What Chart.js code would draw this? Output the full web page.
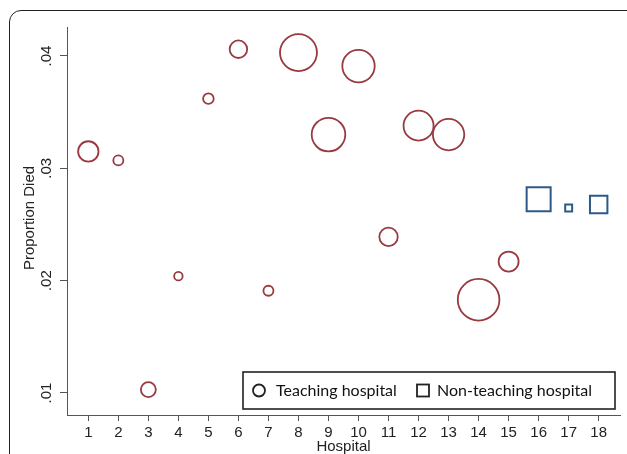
<!DOCTYPE html>
<html>
<head>
<meta charset="utf-8">
<script src="https://cdn.jsdelivr.net/npm/chart.js@4"></script>
<style>
  html, body { margin: 0; padding: 0; background: #fff; }
  #wrap { position: relative; width: 627px; height: 454px; overflow: hidden; }
  #frame {
    position: absolute; left: 9px; top: 10px; width: 630px; height: 520px;
    border: 1.8px solid #222; border-radius: 12px; box-sizing: border-box;
  }
  canvas { position: absolute; left: 0; top: 0; }
</style>
</head>
<body>
<div id="wrap">
  <div id="frame"></div>
  <canvas id="chart" width="627" height="454"></canvas>
</div>
<script>
// hospitals 1-15 teaching, 16-18 non-teaching
const teachingHosp = [1, 2, 3, 4, 5, 6, 7, 8, 9, 10, 11, 12, 13, 14, 15];
const teachingDied = [0.0315, 0.0307, 0.0103, 0.0204, 0.0362, 0.0406, 0.0191, 0.0403, 0.0330, 0.0391, 0.0239, 0.0338, 0.0330, 0.0183, 0.0217];
const teachingWeight = [104, 25, 56, 18, 28, 77, 25, 342, 282, 262, 85, 225, 246, 433, 100];

const nonTeachHosp = [16, 17, 18];
const nonTeachDied = [0.02725, 0.02646, 0.02678];
const nonTeachWeight = [144, 12, 76];

const xTicks = [1, 2, 3, 4, 5, 6, 7, 8, 9, 10, 11, 12, 13, 14, 15, 16, 17, 18];
const yTicks = [0.01, 0.02, 0.03, 0.04];
const yTickLabels = ['.01', '.02', '.03', '.04'];

const MAROON = '#993a41';
const NAVY = '#2c5a88';
const AXIS = '#555';
const FONT = '"Liberation Sans", Arial, sans-serif';

function points(xs, ys, ws) {
  return xs.map((x, i) => ({ x: x, y: ys[i], w: ws[i] }));
}

// text that Stata puts outside the plot, plus the legend box inside it
const overlay = {
  id: 'overlay',
  afterDraw(chart) {
    const { ctx, chartArea, scales } = chart;
    ctx.save();
    ctx.fillStyle = '#222';
    ctx.textAlign = 'center';
    ctx.textBaseline = 'middle';
    ctx.font = '15px ' + FONT;
    yTicks.forEach((v, i) => {
      ctx.save();
      ctx.translate(47, scales.y.getPixelForValue(v));
      ctx.rotate(-Math.PI / 2);
      ctx.fillText(yTickLabels[i], 0, 0);
      ctx.restore();
    });
    ctx.save();
    ctx.translate(30, (chartArea.top + chartArea.bottom) / 2 - 3);
    ctx.rotate(-Math.PI / 2);
    ctx.fillText('Proportion Died', 0, 0);
    ctx.restore();
    ctx.fillText('Hospital', (chartArea.left + chartArea.right) / 2, 447);

    // legend
    ctx.strokeStyle = '#222';
    ctx.lineWidth = 1.6;
    ctx.fillStyle = '#fff';
    ctx.fillRect(243, 372, 372, 37);
    ctx.strokeRect(243, 372, 372, 37);
    ctx.lineWidth = 1.8;
    ctx.beginPath();
    ctx.arc(259, 390.5, 6, 0, Math.PI * 2);
    ctx.stroke();
    ctx.strokeRect(417, 384.5, 12, 12);
    ctx.fillStyle = '#111';
    ctx.textAlign = 'left';
    ctx.font = '16px Lato, "Open Sans", sans-serif';
    ctx.fillText('Teaching hospital', 276, 391);
    ctx.fillText('Non-teaching hospital', 437, 391);
    ctx.restore();
  }
};

new Chart(document.getElementById('chart'), {
  type: 'bubble',
  data: {
    datasets: [
      {
        label: 'Teaching hospital',
        data: points(teachingHosp, teachingDied, teachingWeight),
        pointStyle: 'circle',
        radius: (c) => Math.sqrt(c.raw.w),
        backgroundColor: 'rgba(0,0,0,0)',
        borderColor: MAROON,
        borderWidth: 1.8,
      },
      {
        label: 'Non-teaching hospital',
        data: points(nonTeachHosp, nonTeachDied, nonTeachWeight),
        pointStyle: 'rect',
        radius: (c) => Math.sqrt(c.raw.w) / Math.SQRT1_2,
        backgroundColor: 'rgba(0,0,0,0)',
        borderColor: NAVY,
        borderWidth: 2,
      },
    ],
  },
  options: {
    responsive: false,
    animation: false,
    clip: false,
    layout: { autoPadding: false, padding: { top: 27, right: 7, left: 0, bottom: 0 } },
    plugins: { legend: { display: false }, tooltip: { enabled: false } },
    scales: {
      x: {
        type: 'linear',
        min: 0.29,
        max: 18.71,
        afterBuildTicks: (s) => { s.ticks = xTicks.map((v) => ({ value: v })); },
        afterFit: (s) => { s.height = 39; s.paddingLeft = 0; s.paddingRight = 0; },
        grid: { display: true, drawOnChartArea: false, drawTicks: true, tickLength: 6, color: AXIS },
        border: { display: true, color: AXIS, width: 1 },
        ticks: { color: '#222', font: { family: FONT, size: 15 }, padding: 3, maxRotation: 0, autoSkip: false },
      },
      y: {
        type: 'linear',
        min: 0.00804,
        max: 0.04258,
        afterBuildTicks: (s) => { s.ticks = yTicks.map((v) => ({ value: v })); },
        afterFit: (s) => { s.width = 67; s.paddingTop = 0; s.paddingBottom = 0; },
        grid: { display: true, drawOnChartArea: false, drawTicks: true, tickLength: 7, color: AXIS },
        border: { display: true, color: AXIS, width: 1 },
        ticks: { display: false },
      },
    },
  },
  plugins: [overlay],
});
</script>
</body>
</html>
